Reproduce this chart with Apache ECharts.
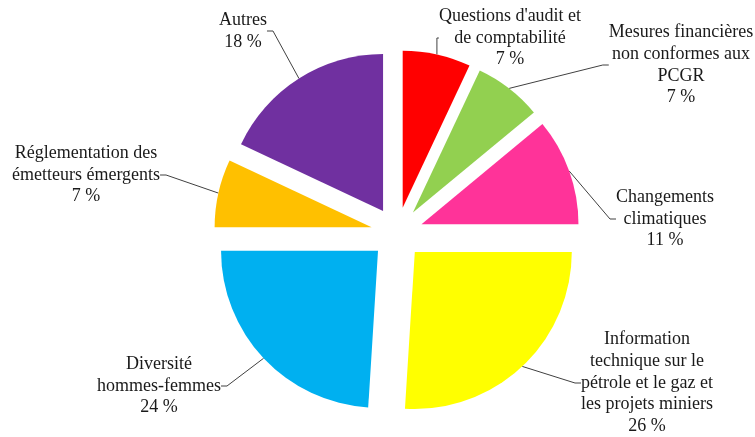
<!DOCTYPE html>
<html>
<head>
<meta charset="utf-8">
<script src="https://cdn.jsdelivr.net/npm/echarts@6/dist/echarts.min.js"></script>
<style>
  html, body { margin: 0; padding: 0; background: #fff; }
  #chart { width: 755px; height: 437px; }
</style>
</head>
<body>
<div id="chart"></div>
<script>
// categories, clockwise from 12 o'clock
const categories = [
  "Questions d'audit et\nde comptabilité",
  'Mesures financières\nnon conformes aux\nPCGR',
  'Changements\nclimatiques',
  'Information\ntechnique sur le\npétrole et le gaz et\nles projets miniers',
  'Diversité\nhommes-femmes',
  'Réglementation des\németteurs émergents',
  'Autres'
]
const shares = [7, 7, 11, 26, 24, 7, 18]
const colors = ['#ff0000', '#92d050', '#ff3399', '#ffff00', '#00b0f0', '#ffc000', '#7030a0']

// where each label block sits (text centre)
const labelSpots = [
  [510, 38], [681, 65], [665, 219], [647, 383], [159, 386], [86, 175], [243, 31]
]

const chart = echarts.init(document.getElementById('chart'))

const pieCenter = [397, 233]
const pieRadius = 157
const explode = 26

chart.setOption({
  animation: false,
  series: [
    {
      // exploded slices
      type: 'pie',
      center: pieCenter,
      radius: pieRadius,
      startAngle: 90,
      clockwise: true,
      selectedMode: 'multiple',
      selectedOffset: explode,
      silent: true,
      label: { show: false },
      labelLine: { show: false },
      data: categories.map((name, i) => ({
        name: name,
        value: shares[i],
        selected: true,
        itemStyle: { color: colors[i] }
      }))
    },
    {
      // same data, transparent, only carries labels and leader lines
      type: 'pie',
      center: pieCenter,
      radius: pieRadius + explode,
      startAngle: 90,
      clockwise: true,
      silent: true,
      itemStyle: { color: 'rgba(0,0,0,0)' },
      label: {
        show: true,
        position: 'outside',
        formatter: p => p.name + '\n' + p.value + ' %',
        fontFamily: 'Liberation Serif',
        fontSize: 18,
        lineHeight: 21.7,
        color: '#1a1a1a',
        align: 'center'
      },
      labelLine: {
        show: true,
        length: 10,
        length2: 6,
        lineStyle: { color: '#404040', width: 1 }
      },
      labelLayout: params => {
        const spot = labelSpots[params.dataIndex]
        return {
          x: spot[0],
          y: spot[1],
          align: 'center',
          verticalAlign: 'middle'
        }
      },
      data: categories.map((name, i) => ({
        name: name,
        value: shares[i]
      }))
    }
  ]
})
</script>
</body>
</html>
